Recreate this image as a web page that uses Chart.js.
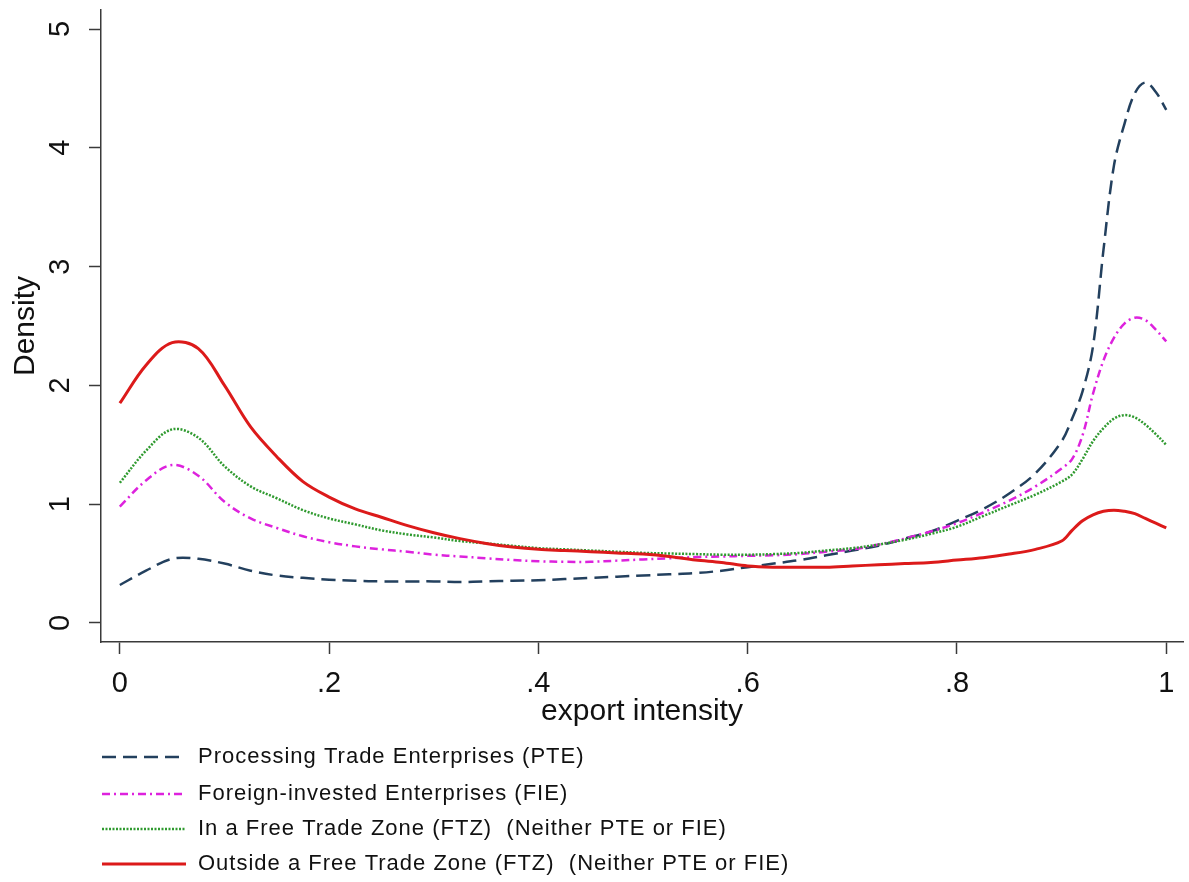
<!DOCTYPE html>
<html>
<head>
<meta charset="utf-8">
<script src="https://cdn.jsdelivr.net/npm/chart.js@4.4.1/dist/chart.umd.min.js"></script>
<style>
  html, body { margin: 0; padding: 0; background: #fff; }
  #wrap { position: relative; width: 1189px; height: 882px; }
</style>
</head>
<body>
<div id="wrap"><canvas id="densityChart"></canvas></div>
<script>
// export intensity grid (finer near 1 where the peaks are)
const exportIntensity = [0, 0.025, 0.05, 0.075, 0.1, 0.125, 0.15, 0.175, 0.2, 0.225, 0.25, 0.275, 0.3, 0.325, 0.35, 0.375,
    0.4, 0.425, 0.45, 0.475, 0.5, 0.525, 0.55, 0.575, 0.6, 0.625, 0.65, 0.675, 0.7, 0.725, 0.75, 0.775, 0.8, 0.825, 0.85, 0.875,
    0.9, 0.91, 0.92, 0.93, 0.94, 0.95, 0.96, 0.97, 0.98, 0.99, 1];

const pteDensity = [0.32, 0.44, 0.54, 0.54, 0.50, 0.44, 0.40, 0.38, 0.365, 0.355, 0.35, 0.35, 0.35, 0.345, 0.35, 0.355,
    0.36, 0.37, 0.38, 0.39, 0.40, 0.41, 0.42, 0.44, 0.47, 0.50, 0.53, 0.57, 0.61, 0.65, 0.71, 0.77, 0.86, 0.96, 1.09, 1.26,
    1.53, 1.72, 1.95, 2.33, 3.14, 3.85, 4.20, 4.46, 4.55, 4.47, 4.32];

const fieDensity = [0.98, 1.20, 1.33, 1.24, 1.02, 0.88, 0.80, 0.73, 0.68, 0.645, 0.62, 0.60, 0.575, 0.56, 0.545, 0.53,
    0.52, 0.515, 0.515, 0.525, 0.535, 0.545, 0.555, 0.56, 0.565, 0.57, 0.58, 0.60, 0.62, 0.66, 0.71, 0.77, 0.84, 0.93, 1.03, 1.15,
    1.30, 1.38, 1.58, 1.93, 2.21, 2.40, 2.52, 2.57, 2.55, 2.47, 2.37];

const ftzDensity = [1.18, 1.45, 1.63, 1.56, 1.32, 1.15, 1.05, 0.95, 0.88, 0.83, 0.78, 0.745, 0.72, 0.69, 0.67, 0.65,
    0.63, 0.62, 0.61, 0.60, 0.59, 0.585, 0.58, 0.575, 0.575, 0.58, 0.59, 0.61, 0.63, 0.66, 0.70, 0.75, 0.81, 0.90, 0.99, 1.08,
    1.19, 1.25, 1.38, 1.53, 1.64, 1.72, 1.75, 1.73, 1.67, 1.59, 1.50];

const outsideDensity = [1.85, 2.17, 2.36, 2.31, 2.00, 1.65, 1.40, 1.19, 1.06, 0.96, 0.89, 0.82, 0.76, 0.71, 0.67, 0.64,
    0.62, 0.61, 0.60, 0.59, 0.58, 0.56, 0.53, 0.51, 0.48, 0.47, 0.47, 0.47, 0.48, 0.49, 0.50, 0.51, 0.53, 0.55, 0.58, 0.62,
    0.69, 0.78, 0.86, 0.91, 0.94, 0.95, 0.94, 0.92, 0.88, 0.84, 0.80];

const seriesLabels = [
    'Processing Trade Enterprises (PTE)',
    'Foreign-invested Enterprises (FIE)',
    'In a Free Trade Zone (FTZ)  (Neither PTE or FIE)',
    'Outside a Free Trade Zone (FTZ)  (Neither PTE or FIE)'
];

const xTicks = [0, 0.2, 0.4, 0.6, 0.8, 1];
const xTickLabels = ['0', '.2', '.4', '.6', '.8', '1'];
const yTicks = [0, 1, 2, 3, 4, 5];
const yTickLabels = ['0', '1', '2', '3', '4', '5'];

const FONT = '"Liberation Sans", Arial, sans-serif';
const AXIS_COLOR = '#3a3a3a';

function toPoints(ys) {
    return exportIntensity.map((x, i) => ({ x: x, y: ys[i] }));
}

// rotated y tick labels, like the Stata original
const yLabelPlugin = {
    id: 'yLabels',
    afterDraw(chart) {
        const ctx = chart.ctx;
        const y = chart.scales.y;
        ctx.save();
        ctx.fillStyle = '#111';
        ctx.font = '29px ' + FONT;
        ctx.textAlign = 'center';
        ctx.textBaseline = 'middle';
        yTicks.forEach((v, i) => {
            ctx.save();
            ctx.translate(61, y.getPixelForValue(v));
            ctx.rotate(-Math.PI / 2);
            ctx.fillText(yTickLabels[i], 0, 0);
            ctx.restore();
        });
        ctx.restore();
    }
};

// legend stacked one per row under the x axis
const stackedLegend = {
    id: 'stackedLegend',
    afterDraw(chart) {
        const ctx = chart.ctx;
        const rows = [757, 794, 829, 864];
        ctx.save();
        chart.data.datasets.forEach((ds, i) => {
            const yy = rows[ds.legendRow];
            ctx.beginPath();
            ctx.strokeStyle = ds.borderColor;
            ctx.lineWidth = ds.borderWidth;
            ctx.setLineDash(ds.borderDash || []);
            ctx.moveTo(102, yy);
            ctx.lineTo(186, yy);
            ctx.stroke();
            ctx.setLineDash([]);
            ctx.fillStyle = '#111';
            ctx.font = '22px ' + FONT;
            ctx.letterSpacing = '1px';
            ctx.textAlign = 'left';
            ctx.textBaseline = 'middle';
            ctx.fillText(ds.label, 198, yy);
            ctx.letterSpacing = '0px';
        });
        ctx.restore();
    }
};

const ctx = document.getElementById('densityChart').getContext('2d');

new Chart(ctx, {
    type: 'line',
    data: {
        datasets: [
            {
                label: seriesLabels[3], legendRow: 3,
                data: toPoints(outsideDensity),
                borderColor: '#dc1a1a', borderWidth: 3
            },
            {
                label: seriesLabels[2], legendRow: 2,
                data: toPoints(ftzDensity),
                borderColor: '#2f9a2f', borderWidth: 2.5, borderDash: [2, 1.5]
            },
            {
                label: seriesLabels[1], legendRow: 1,
                data: toPoints(fieDensity),
                borderColor: '#dd22dd', borderWidth: 2.5, borderDash: [8, 4, 2, 4]
            },
            {
                label: seriesLabels[0], legendRow: 0,
                data: toPoints(pteDensity),
                borderColor: '#23405e', borderWidth: 2.5, borderDash: [14, 7]
            }
        ]
    },
    options: {
        responsive: true,
        maintainAspectRatio: false,
        animation: false,
        layout: { padding: { top: 10, right: 6, bottom: 152, left: 0 } },
        elements: {
            point: { radius: 0 },
            line: { tension: 0.35, fill: false, borderCapStyle: 'butt' }
        },
        plugins: { legend: { display: false }, tooltip: { enabled: false } },
        scales: {
            x: {
                type: 'linear',
                min: -0.018,
                max: 1.016,
                afterBuildTicks: s => { s.ticks = xTicks.map(v => ({ value: v })); },
                afterFit: s => { s.height = 88; },
                grid: { drawOnChartArea: false, drawTicks: true, tickLength: 12, tickColor: AXIS_COLOR, tickWidth: 1.5 },
                border: { color: AXIS_COLOR, width: 1.5 },
                ticks: {
                    color: '#111',
                    font: { family: FONT, size: 29 },
                    padding: 13,
                    maxRotation: 0,
                    callback: (v, i) => xTickLabels[i]
                },
                title: {
                    display: true,
                    text: 'export intensity',
                    color: '#111',
                    font: { family: FONT, size: 30 },
                    padding: { top: 0, bottom: 0 }
                }
            },
            y: {
                type: 'linear',
                min: -0.16,
                max: 5.16,
                afterBuildTicks: s => { s.ticks = yTicks.map(v => ({ value: v })); },
                afterFit: s => { s.width = 101; },
                grid: { drawOnChartArea: false, drawTicks: true, tickLength: 12, tickColor: AXIS_COLOR, tickWidth: 1.5 },
                border: { color: AXIS_COLOR, width: 1.5 },
                ticks: { display: false },
                title: {
                    display: true,
                    text: 'Density',
                    color: '#111',
                    font: { family: FONT, size: 30 },
                    padding: { top: 8, bottom: 0 }
                }
            }
        }
    },
    plugins: [yLabelPlugin, stackedLegend]
});
</script>
</body>
</html>
